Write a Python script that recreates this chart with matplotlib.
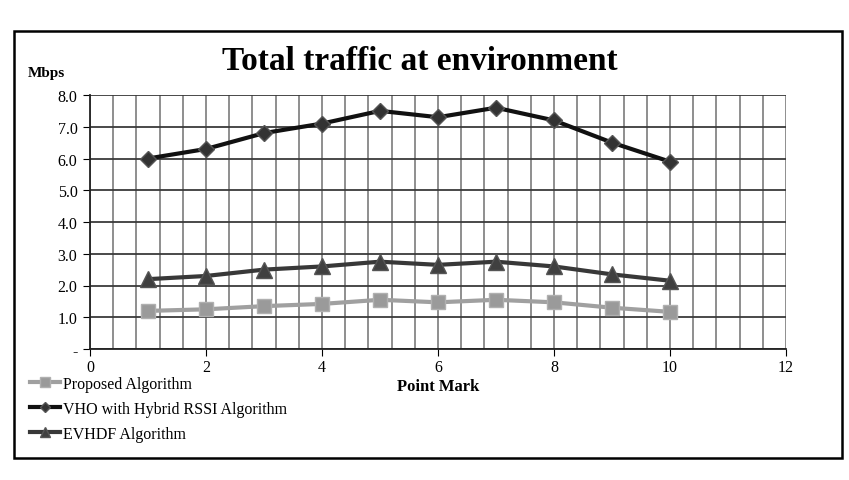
import matplotlib
matplotlib.use("Agg")
import matplotlib.pyplot as plt
from matplotlib.ticker import MultipleLocator, FixedLocator
from matplotlib.patches import Rectangle
import numpy as np

points = [1, 2, 3, 4, 5, 6, 7, 8, 9, 10]
proposed = [1.2, 1.25, 1.35, 1.42, 1.55, 1.47, 1.55, 1.47, 1.3, 1.17]
vho = [6.0, 6.3, 6.8, 7.1, 7.5, 7.3, 7.6, 7.2, 6.5, 5.9]
evhdf = [2.2, 2.3, 2.5, 2.6, 2.75, 2.65, 2.75, 2.6, 2.35, 2.15]
ytick_vals = [0, 1, 2, 3, 4, 5, 6, 7, 8]
ytick_labels = ["-", "1.0", "2.0", "3.0", "4.0", "5.0", "6.0", "7.0", "8.0"]
xtick_vals = [0, 2, 4, 6, 8, 10, 12]

plt.rcParams['font.family'] = ['Liberation Serif', 'DejaVu Serif']

fig = plt.figure(figsize=(8.49, 4.81), dpi=100)
ax = fig.add_axes([90/849, 1-350/481, (786-90)/849, (350-96)/481])

ax.set_xlim(0, 12)
ax.set_ylim(0, 8)
ax.xaxis.set_major_locator(FixedLocator(xtick_vals))
ax.xaxis.set_minor_locator(MultipleLocator(0.4))
ax.set_yticks(ytick_vals)
ax.set_yticklabels(ytick_labels)
ax.grid(True, which='minor', axis='x', color='#707070', lw=1.1)
ax.grid(True, which='major', axis='x', color='#707070', lw=1.1)
ax.grid(True, which='major', axis='y', color='#3a3a3a', lw=1.3)
ax.tick_params(axis='x', which='minor', length=0)
ax.tick_params(axis='x', which='major', direction='out', length=5, labelsize=11.5, pad=2.5)
ax.tick_params(axis='y', direction='out', length=5, labelsize=11.5, pad=4)
for s in ['top', 'right']:
    ax.spines[s].set_visible(False)
for s in ['left', 'bottom']:
    ax.spines[s].set_color('#222222')
    ax.spines[s].set_linewidth(1.3)
ax.set_axisbelow(True)

l1, = ax.plot(points, proposed, color='#a0a0a0', lw=3, marker='s', ms=10,
              mfc='#9a9a9a', mec='#b0b0b0', label='Proposed Algorithm', zorder=3)
l2, = ax.plot(points, vho, color='#111111', lw=3, marker='D', ms=8,
              mfc='#333333', mec='#555555', label='VHO with Hybrid RSSI Algorithm', zorder=3)
l3, = ax.plot(points, evhdf, color='#383838', lw=3, marker='^', ms=11,
              mfc='#404040', mec='#555555', label='EVHDF Algorithm', zorder=3)

ax.set_xlabel('Point Mark', fontsize=12, fontweight='bold')
ax.xaxis.set_label_coords(0.5, -0.115)

fig.text(0.495, 0.873, 'Total traffic at environment', fontsize=24, fontweight='bold',
         ha='center', va='center')
fig.text(28/849, 1-74/481, 'Mbps', fontsize=11, fontweight='bold', ha='left', va='center')

leg = fig.legend(handles=[l1, l2, l3], loc='upper left', bbox_to_anchor=(30/849, 1-377/481),
                 frameon=False, fontsize=11.5, handlelength=1.9, handletextpad=0.15,
                 labelspacing=0.55, borderaxespad=0, borderpad=0, markerscale=0.7)

fig.patches.append(Rectangle((14/849, 1-459/481), (842-14)/849, (459-32)/481,
                             transform=fig.transFigure, fill=False, edgecolor='black', lw=1.8))

fig.savefig('out.png', dpi=100)
